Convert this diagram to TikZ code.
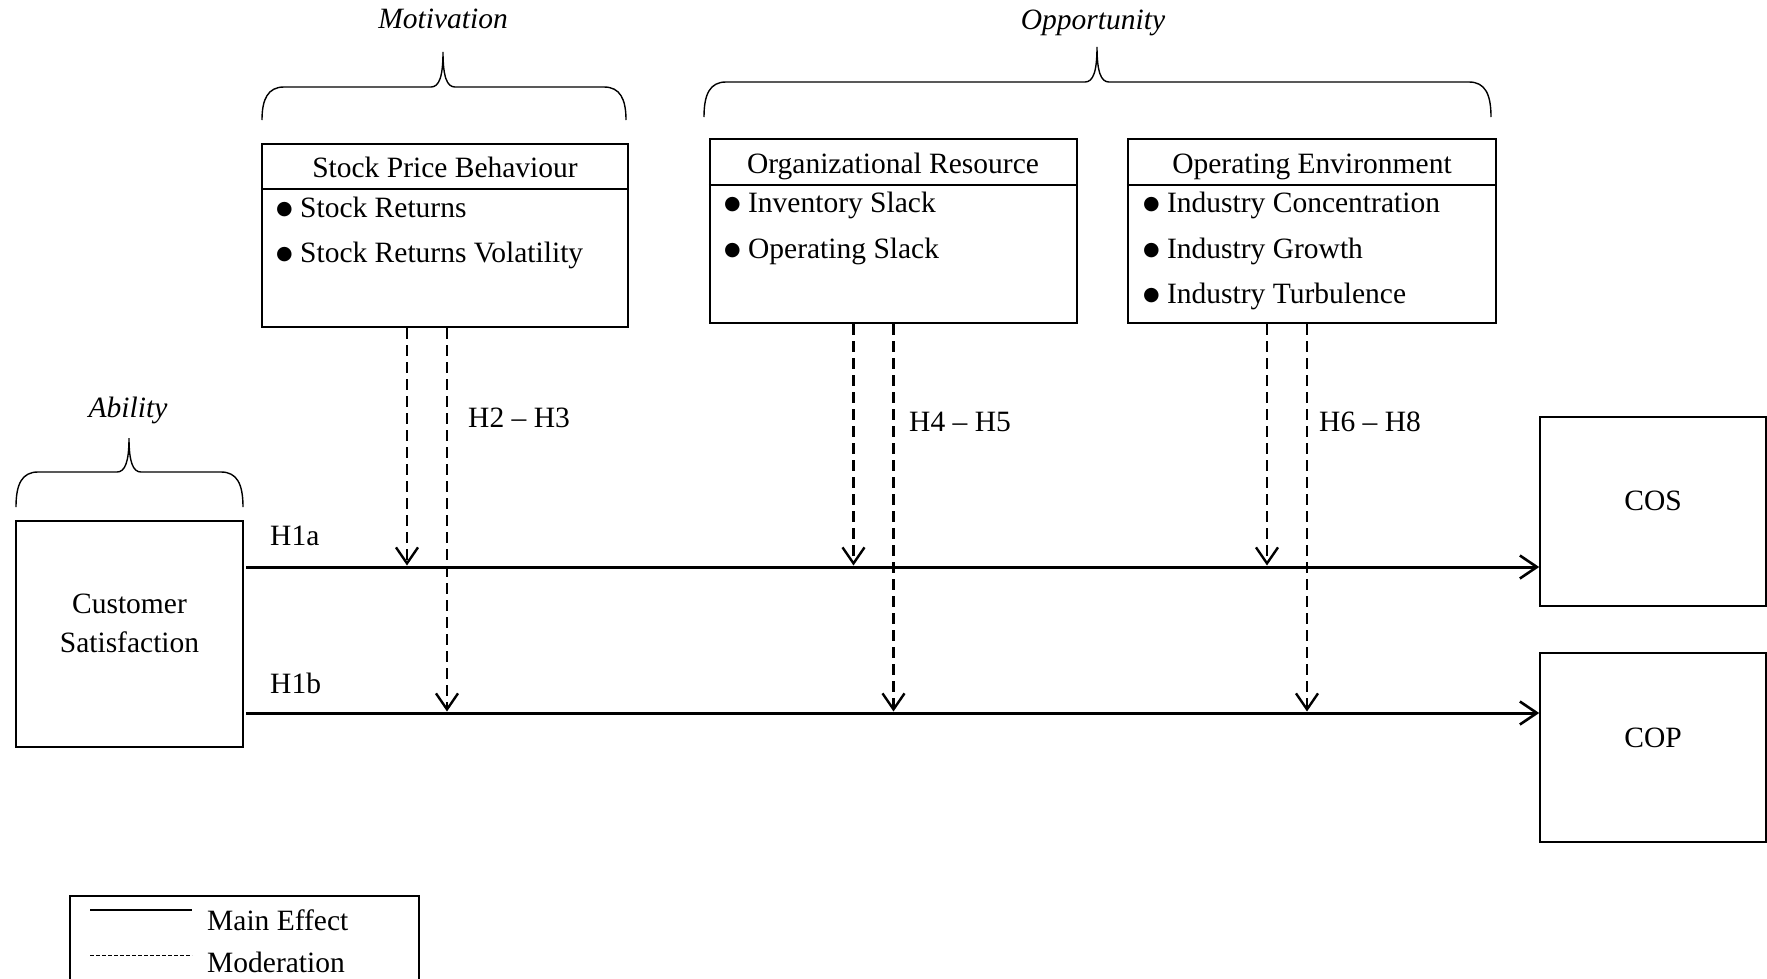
\documentclass[tikz,border=0pt]{standalone}
\usepackage{fontspec}
\setmainfont{Liberation Serif}
\newfontfamily\dotfont{DejaVu Sans}
\usetikzlibrary{arrows.meta}

\newcommand{\bulletmark}{\raisebox{2.5pt}{\dotfont\fontsize{19pt}{19pt}\selectfont ●}}

\tikzset{
  panel/.style={draw, line width=2.3pt, inner sep=0pt},
  outcome/.style={draw, line width=1.6pt, inner sep=0pt},
  item/.style={anchor=base west, inner sep=0pt},
  mainfx/.style={line width=3pt, -{Straight Barb[length=17pt,width=23pt,line width=2.6pt]}},
  moder/.style={line width=2.5pt, dash pattern=on 11pt off 6pt, shorten >=1.5pt,
    -{Straight Barb[length=16pt,width=22pt,line width=2.4pt]}},
  curly/.style={line width=1.4pt},
}

\begin{document}
\begin{tikzpicture}[x=1pt, y=-1pt, font=\fontsize{29.5pt}{39pt}\selectfont]
  \useasboundingbox (0,0) rectangle (1767,978);

  % moderators
  \node[panel, minimum width=366pt, minimum height=183pt] (spb) at (445,235.5) {};
  \draw[line width=2.3pt] ([yshift=-46pt]spb.north west) -- ([yshift=-46pt]spb.north east);
  \node[anchor=base] (spbtitle) at (445,177) {Stock Price Behaviour};
  \node[item] (spb1) at (276,217) {\bulletmark\ Stock Returns};
  \node[item] (spb2) at (276,262) {\bulletmark\ Stock Returns Volatility};

  \node[panel, minimum width=367pt, minimum height=184pt] (ores) at (893.5,231) {};
  \draw[line width=2.3pt] ([yshift=-47pt]ores.north west) -- ([yshift=-47pt]ores.north east);
  \node[anchor=base] (orestitle) at (893,173) {Organizational Resource};
  \node[item] (ores1) at (724,212) {\bulletmark\ Inventory Slack};
  \node[item] (ores2) at (724,258) {\bulletmark\ Operating Slack};

  \node[panel, minimum width=368pt, minimum height=184pt] (openv) at (1312,231) {};
  \draw[line width=2.3pt] ([yshift=-47pt]openv.north west) -- ([yshift=-47pt]openv.north east);
  \node[anchor=base] (openvtitle) at (1312,173) {Operating Environment};
  \node[item] (openv1) at (1143,212) {\bulletmark\ Industry Concentration};
  \node[item] (openv2) at (1143,258) {\bulletmark\ Industry Growth};
  \node[item] (openv3) at (1143,303) {\bulletmark\ Industry Turbulence};

  % braces
  \draw[curly] (262,120) .. controls (262,99) and (268,87) .. (284,87) -- (431,87)
    .. controls (439,87) and (443,77) .. (443,52) .. controls (443,77) and (447,87) .. (455,87)
    -- (604,87) .. controls (620,87) and (626,99) .. (626,120);
  \draw[curly] (704,117) .. controls (704,94) and (710,82) .. (726,82) -- (1085,82)
    .. controls (1093,82) and (1097,72) .. (1097,47) .. controls (1097,72) and (1101,82) .. (1109,82)
    -- (1469,82) .. controls (1485,82) and (1491,94) .. (1491,117);
  \draw[curly] (16,507) .. controls (16,484) and (22,472) .. (38,472) -- (117,472)
    .. controls (125,472) and (129,462) .. (129,438) .. controls (129,462) and (133,472) .. (141,472)
    -- (221,472) .. controls (237,472) and (243,484) .. (243,507);
  \node[anchor=base] (motiv) at (443,28) {\itshape Motivation};
  \node[anchor=base] (oppor) at (1093,29) {\itshape Opportunity};
  \node[anchor=base] (abil) at (128,417) {\itshape Ability};

  % antecedent and outcomes
  \node[outcome, minimum width=227pt, minimum height=226pt] (cs) at (129.5,634) {};
  \node[anchor=base, align=center] (cstext) at (129.5,652) {Customer\\Satisfaction};
  \node[outcome, minimum width=226pt, minimum height=189pt] (cos) at (1653,511.5) {};
  \node[anchor=base] (costext) at (1653,510) {COS};
  \node[outcome, minimum width=226pt, minimum height=189pt] (cop) at (1653,747.5) {};
  \node[anchor=base] (coptext) at (1653,747) {COP};

  % main effects
  \coordinate (h1a) at (246,567);
  \coordinate (h1b) at (246,713);
  \draw[mainfx] (h1a) -- (h1a -| cos.west);
  \draw[mainfx] (h1b) -- (h1b -| cop.west);
  \node[item] (h1alabel) at (270,545) {H1a};
  \node[item] (h1blabel) at (270,693) {H1b};

  % moderation
  \draw[moder] ([xshift=-38pt]spb.south) -- ([xshift=-38pt]spb.south |- h1a);
  \draw[moder] ([xshift=2pt]spb.south) -- ([xshift=2pt]spb.south |- h1b);
  \draw[moder] ([xshift=-40pt]ores.south) -- ([xshift=-40pt]ores.south |- h1a);
  \draw[moder] ([xshift=0pt]ores.south) -- ([xshift=0pt]ores.south |- h1b);
  \draw[moder] ([xshift=-45pt]openv.south) -- ([xshift=-45pt]openv.south |- h1a);
  \draw[moder] ([xshift=-5pt]openv.south) -- ([xshift=-5pt]openv.south |- h1b);
  \node[item] (h23) at (468,427) {H2 -- H3};
  \node[item] (h45) at (909,431) {H4 -- H5};
  \node[item] (h68) at (1319,431) {H6 -- H8};

  % legend
  \node[panel, minimum width=349pt, minimum height=120pt, anchor=north west] (leg) at (69,895) {};
  \coordinate (solida) at (90,910);
  \coordinate (solidb) at (192,910);
  \coordinate (dasha) at (90,955);
  \coordinate (dashb) at (192,955);
  \draw[line width=1.2pt] (solida) -- (solidb);
  \draw[line width=1pt, dash pattern=on 4pt off 2pt] (dasha) -- (dashb);
  \node[item] (legmain) at (207,930) {Main Effect};
  \node[item] (legmod) at (207,972) {Moderation};
\end{tikzpicture}
\end{document}
